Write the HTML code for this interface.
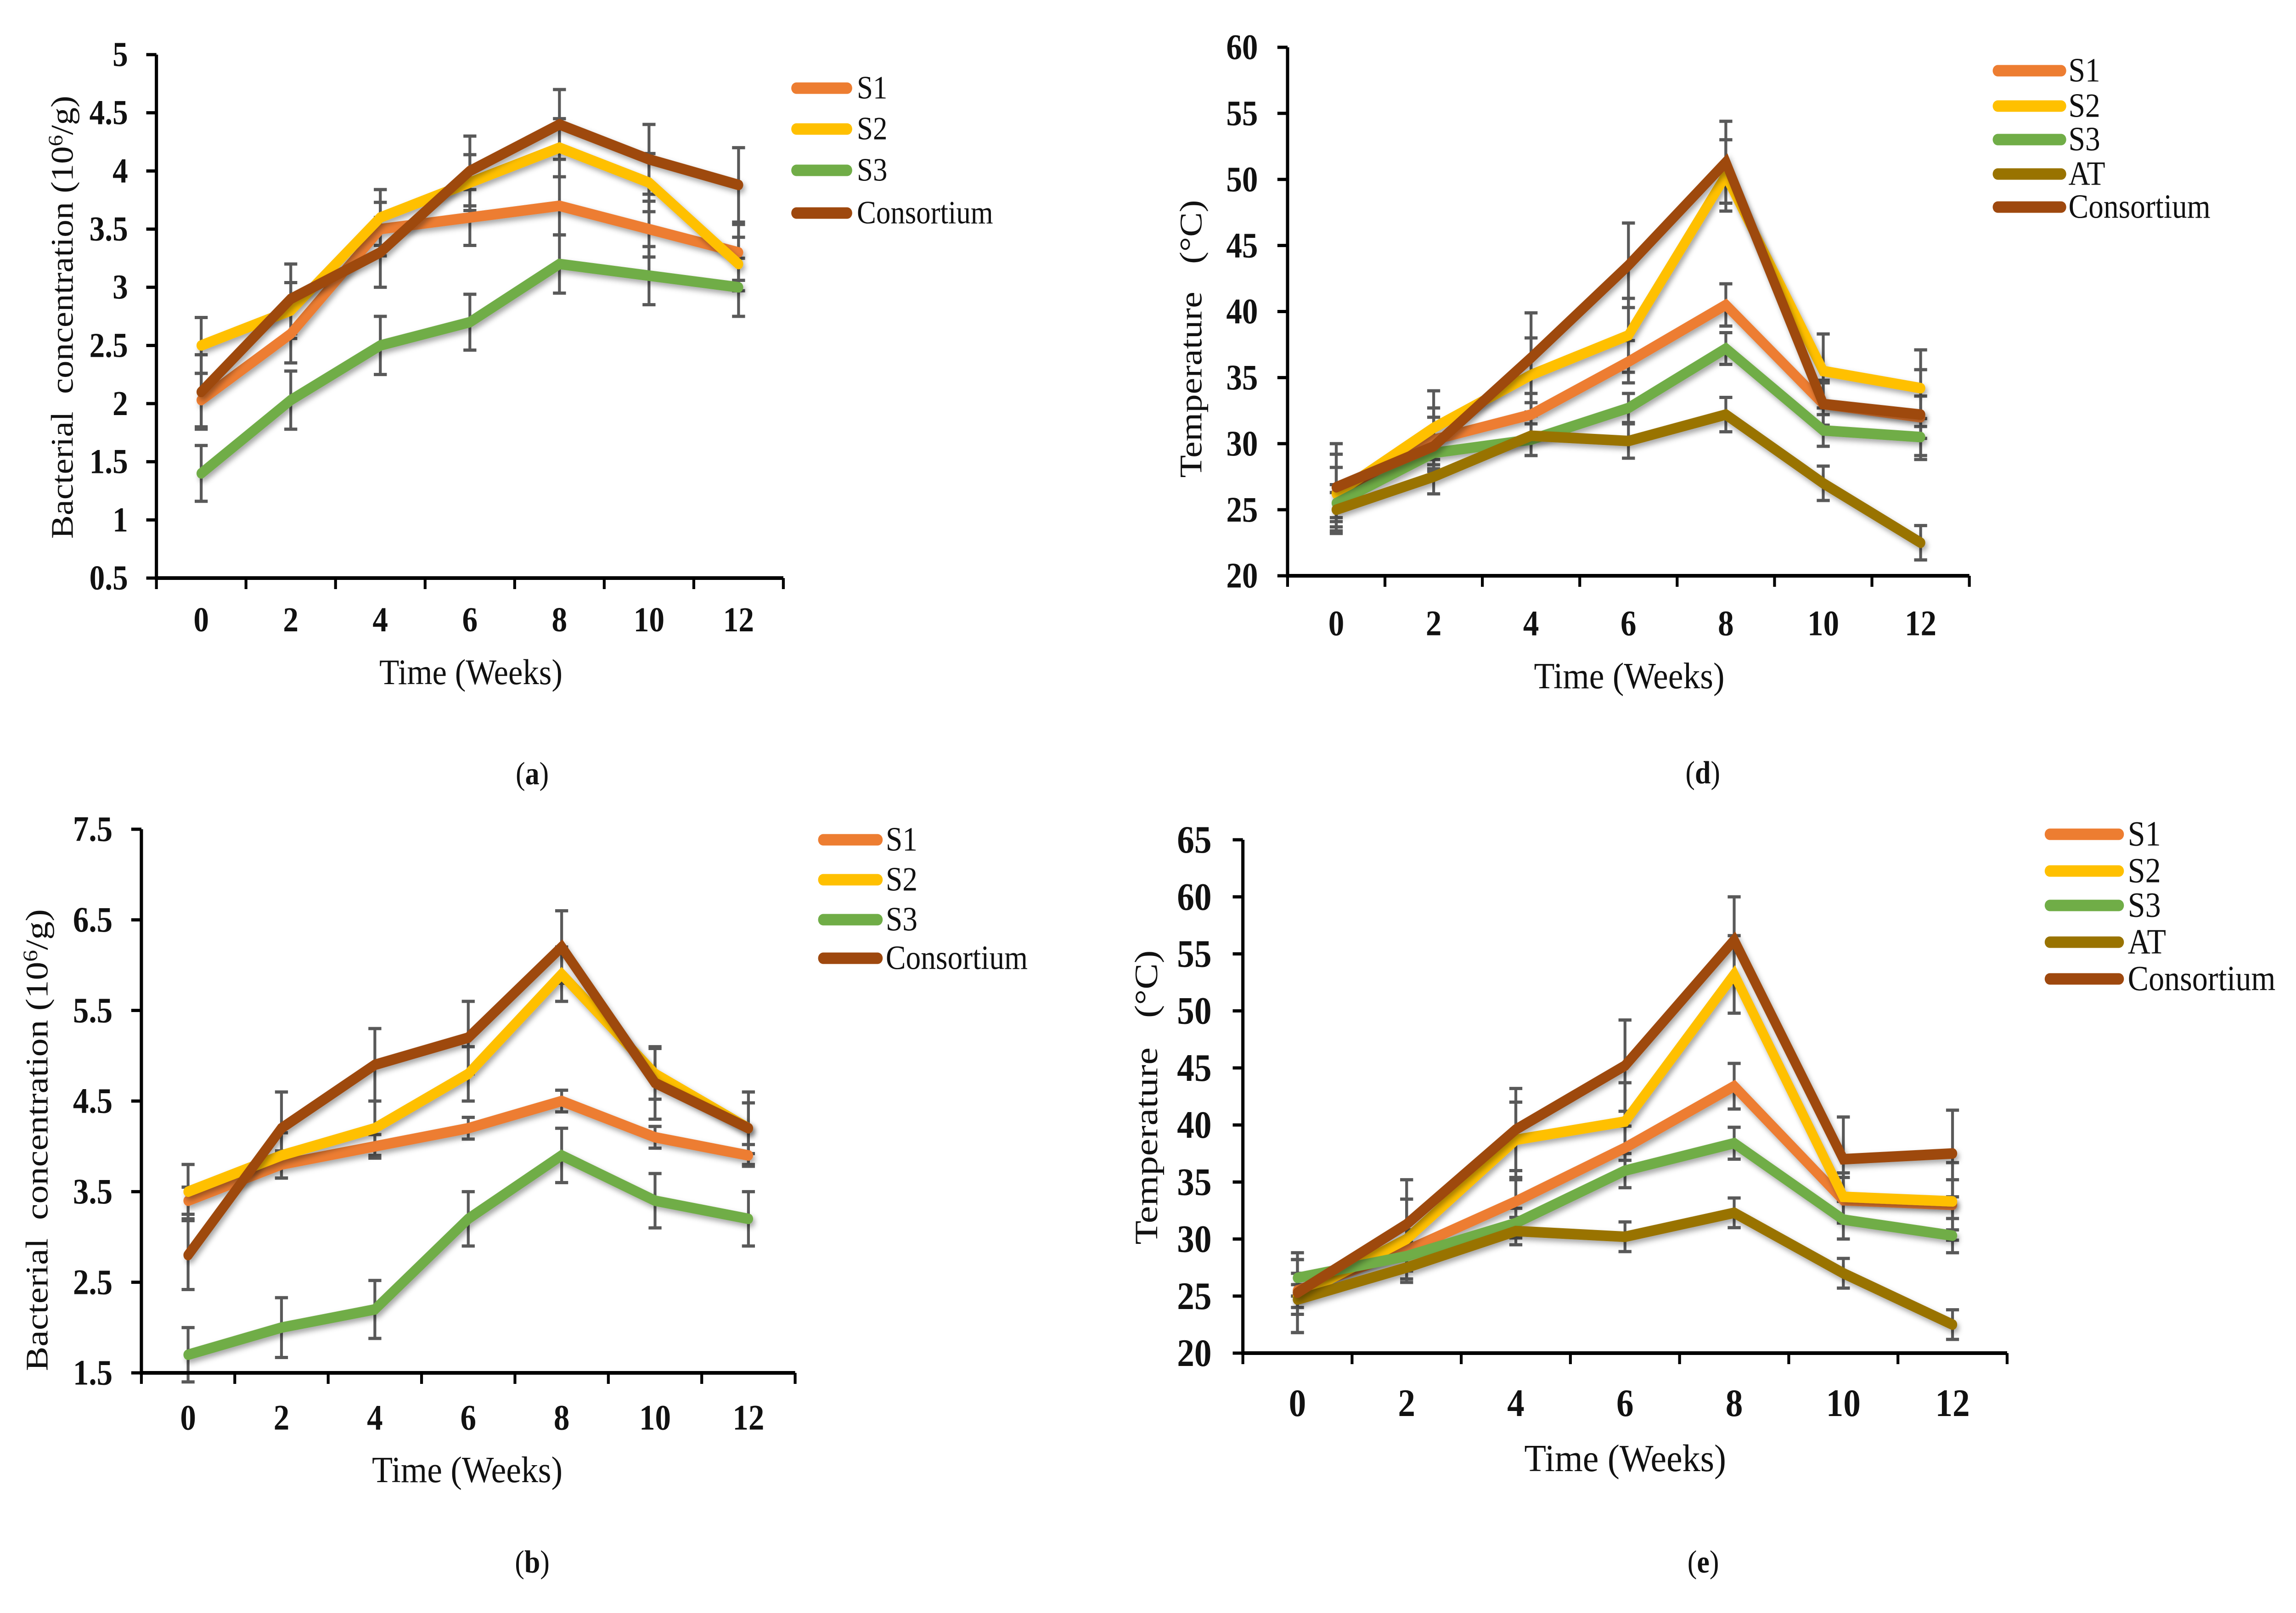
<!DOCTYPE html>
<html lang="en">
<head>
<meta charset="utf-8">
<title>Bacterial concentration and temperature over time</title>
<style>
html,body{margin:0;padding:0;background:#fff;width:100%;height:100%;overflow:hidden;}
svg{display:block;position:absolute;left:0;top:0;width:100%;height:100%;}
text{font-family:"Liberation Serif","Times New Roman",serif;fill:#111;white-space:pre;}
.tick{font-weight:bold;}
</style>
</head>
<body>
<svg id="figure" xmlns="http://www.w3.org/2000/svg" viewBox="0 0 5651 3513" preserveAspectRatio="none">
<defs>
<filter id="lineShadow" x="-10%" y="-10%" width="120%" height="125%" filterUnits="objectBoundingBox">
<feDropShadow dx="5" dy="7" stdDeviation="6" flood-color="#000" flood-opacity="0.35"/>
</filter>
</defs>
<rect width="5651" height="3513" fill="#fff"/>

<g id="panel-a">
<text transform="translate(153,691) rotate(-90)" text-anchor="middle" dy="26" font-size="78" textLength="965" lengthAdjust="spacingAndGlyphs">Bacterial  concentration (10<tspan font-size="50" dy="-26">6</tspan><tspan dy="26">/g)</tspan></text>
<text x="1159" y="1490" text-anchor="middle" font-size="78" textLength="451" lengthAdjust="spacingAndGlyphs">Time (Weeks)</text>
<text x="1310" y="1708" text-anchor="middle" font-size="70">(<tspan font-weight="bold">a</tspan>)</text>
</g>

<g id="panel-d">
<text transform="translate(2931,738) rotate(-90)" text-anchor="middle" dy="26" font-size="78" textLength="605" lengthAdjust="spacingAndGlyphs">Temperature   (°C)</text>
<text x="4010" y="1499" text-anchor="middle" font-size="80" textLength="469" lengthAdjust="spacingAndGlyphs">Time (Weeks)</text>
<text x="4191" y="1706" text-anchor="middle" font-size="70">(<tspan font-weight="bold">d</tspan>)</text>
</g>

<g id="panel-b">
<text transform="translate(91,2483) rotate(-90)" text-anchor="middle" dy="26" font-size="78" textLength="1006" lengthAdjust="spacingAndGlyphs">Bacterial  concentration (10<tspan font-size="50" dy="-26">6</tspan><tspan dy="26">/g)</tspan></text>
<text x="1150" y="3228" text-anchor="middle" font-size="80" textLength="469" lengthAdjust="spacingAndGlyphs">Time (Weeks)</text>
<text x="1310" y="3425" text-anchor="middle" font-size="70">(<tspan font-weight="bold">b</tspan>)</text>
</g>

<g id="panel-e">
<text transform="translate(2822,2390) rotate(-90)" text-anchor="middle" dy="26" font-size="80" textLength="641" lengthAdjust="spacingAndGlyphs">Temperature   (°C)</text>
<text x="4000" y="3204" text-anchor="middle" font-size="84" textLength="497" lengthAdjust="spacingAndGlyphs">Time (Weeks)</text>
<text x="4192" y="3425" text-anchor="middle" font-size="70">(<tspan font-weight="bold">e</tspan>)</text>
</g>

<script>
// ---- shared data ----
var weeks = ["0","2","4","6","8","10","12"];

// ---- panel a values ----
var aTicks = ["0.5","1","1.5","2","2.5","3","3.5","4","4.5","5"];
var aS1 = [2.03,2.6,3.5,3.6,3.7,3.5,3.3];
var aS2 = [2.5,2.8,3.6,3.9,4.2,3.9,3.2];
var aS3 = [1.4,2.03,2.5,2.7,3.2,3.1,3.0];
var aCons = [2.1,2.9,3.3,4.0,4.4,4.1,3.88];
var aS1Err = [0.23,0.25,0.23,0.24,0.25,0.24,0.24];
var aS2Err = [0.24,0.24,0.24,0.24,0.25,0.25,0.23];
var aS3Err = [0.24,0.25,0.25,0.24,0.25,0.25,0.25];
var aConsErr = [0.32,0.3,0.3,0.3,0.3,0.3,0.32];

// ---- panel d values ----
var dTicks = ["20","25","30","35","40","45","50","55","60"];
var dS1 = [26.3,30.3,32.2,36.2,40.5,33,32];
var dS2 = [26.2,31.2,35.2,38.2,50.3,35.5,34.2];
var dS3 = [25.5,29.3,30.3,32.7,37.2,31,30.5];
var dAT = [25,27.5,30.6,30.2,32.2,27,22.5];
var dCons = [26.7,29.8,36.5,43.5,51.3,33,32.2];
var dS1Err = [1.9,2.4,1.6,1.6,1.6,1.6,1.6];
var dS2Err = [3,2.8,2.8,2.8,2.7,2.8,2.9];
var dS3Err = [1.4,1.2,1.2,1.1,1.2,1.2,1.4];
var dATErr = [1.3,1.3,1.5,1.3,1.3,1.3,1.3];
var dConsErr = [3.3,2.2,3.4,3.2,3.1,1.8,3.4];

// ---- panel b values ----
var bTicks = ["1.5","2.5","3.5","4.5","5.5","6.5","7.5"];
var bS1 = [3.4,3.8,4.0,4.2,4.5,4.1,3.9];
var bS2 = [3.5,3.9,4.2,4.8,5.9,4.8,4.2];
var bS3 = [1.7,2.0,2.2,3.2,3.9,3.4,3.2];
var bCons = [2.8,4.2,4.9,5.2,6.2,4.7,4.2];
var bS1Err = [0.15,0.15,0.13,0.12,0.12,0.12,0.12];
var bS2Err = [0.3,0.25,0.3,0.3,0.3,0.28,0.28];
var bS3Err = [0.3,0.33,0.32,0.3,0.3,0.3,0.3];
var bConsErr = [0.38,0.4,0.4,0.4,0.4,0.4,0.4];

// ---- panel e values ----
var eTicks = ["20","25","30","35","40","45","50","55","60","65"];
var eS1 = [25.5,29,33.3,38,43.4,33.4,33];
var eS2 = [25,30,38.7,40.3,53.2,33.7,33.3];
var eS3 = [26.6,28.5,31.4,36,38.4,31.7,30.3];
var eAT = [24.7,27.5,30.7,30.2,32.3,27,22.5];
var eCons = [25.3,31.3,39.6,45.2,56.2,37,37.5];
var eS1Err = [1.5,1.8,1.9,1.9,2,2,2.2];
var eS2Err = [3.2,3.5,3.3,3.4,3.4,2.1,3.4];
var eS3Err = [1.6,1.2,1.3,1.5,1.4,1.7,1.5];
var eATErr = [1.3,1.3,1.2,1.3,1.3,1.3,1.3];
var eConsErr = [3.5,3.9,3.6,4,3.8,3.7,3.8];

// ---- series names and colours ----
var colorByName = {S1:"#ED7D31",S2:"#FFC000",S3:"#70AD47",AT:"#997300",Consortium:"#9E480E"};

var SVGNS = "http://www.w3.org/2000/svg";

function mk(parent, tag, attrs) {
  var el = document.createElementNS(SVGNS, tag);
  for (var k in attrs) el.setAttribute(k, attrs[k]);
  parent.appendChild(el);
  return el;
}

function drawPanel(id, layout, ticks, names, values, errors) {
  var g = document.getElementById("panel-" + id);
  var yMin = parseFloat(ticks[0]);
  var yMax = parseFloat(ticks[ticks.length - 1]);
  var step = (layout.right - layout.left) / weeks.length;
  function xPos(i) { return layout.left + step * (i + 0.5); }
  function yPos(v) { return layout.bottom - (v - yMin) / (yMax - yMin) * (layout.bottom - layout.top); }

  // error bars
  names.forEach(function (name, s) {
    var eg = mk(g, "g", {stroke: "#595959", "stroke-width": 7, fill: "none"});
    
    
    values[s].forEach(function (v, i) {
      var x = xPos(i), hi = yPos(v + errors[s][i]), lo = yPos(v - errors[s][i]);
      mk(eg, "path", {d: "M" + x + " " + hi + "V" + lo + "M" + (x - 16) + " " + hi + "H" + (x + 16) + "M" + (x - 16) + " " + lo + "H" + (x + 16)});
    });
  });

  // axes
  var ax = mk(g, "g", {stroke: "#000", "stroke-width": 8, fill: "none"});
  
  
  mk(ax, "path", {d: "M" + layout.left + " " + layout.top + "V" + layout.bottom + "H" + layout.right});
  ticks.forEach(function (t) {
    var y = yPos(parseFloat(t));
    mk(ax, "path", {d: "M" + (layout.left - 25) + " " + y + "H" + layout.left, "stroke-width": 7});
    var lab = mk(g, "text", {x: layout.tickRight, y: y + layout.tickSize * 0.33, "text-anchor": "end", "font-size": layout.tickSize, "class": "tick"});
    
    
    lab.textContent = t;
  });
  for (var j = 0; j <= weeks.length; j++) {
    var tx = layout.left + step * j;
    mk(ax, "path", {d: "M" + tx + " " + layout.bottom + "V" + (layout.bottom + 24), "stroke-width": 7});
  }
  weeks.forEach(function (w, i) {
    var lab = mk(g, "text", {x: xPos(i), y: layout.xLabelY + layout.tickSize * 0.33, "text-anchor": "middle", "font-size": layout.tickSize, "class": "tick"});
    
    
    lab.textContent = w;
  });

  // series lines
  names.forEach(function (name, s) {
    var pts = values[s].map(function (v, i) { return xPos(i) + "," + yPos(v); }).join(" ");
    var line = mk(g, "polyline", {points: pts, fill: "none", stroke: colorByName[name], "stroke-width": 23, "stroke-linejoin": "miter", "stroke-linecap": "round", filter: "url(#lineShadow)"});
    
    
  });

  // legend
  names.forEach(function (name, s) {
    var y = layout.legendY[s];
    var sw = mk(g, "line", {x1: layout.legendX1 + 12, x2: layout.legendX2 - 12, y1: y, y2: y, stroke: colorByName[name], "stroke-width": 25, "stroke-linecap": "round"});
    
    
    var tx = mk(g, "text", {x: layout.legendText, y: y + layout.legendSize * 0.32, "font-size": layout.legendSize});
    
    
    tx.textContent = name;
  });
}

drawPanel("a",
  {left:385,right:1928,top:119,bottom:1259,tickRight:315,tickSize:76,xLabelY:1350,legendX1:1948,legendX2:2097,legendText:2109,legendSize:71,legendY:[192,281,371,464]},
  aTicks, ["S1","S2","S3","Consortium"], [aS1,aS2,aS3,aCons], [aS1Err,aS2Err,aS3Err,aConsErr]);

drawPanel("d",
  {left:3169,right:4847,top:103,bottom:1254,tickRight:3096,tickSize:78,xLabelY:1358,legendX1:4905,legendX2:5085,legendText:5091,legendSize:74,legendY:[154,231,304,379,451]},
  dTicks, ["S1","S2","S3","AT","Consortium"], [dS1,dS2,dS3,dAT,dCons], [dS1Err,dS2Err,dS3Err,dATErr,dConsErr]);

drawPanel("b",
  {left:348,right:1957,top:1806,bottom:2990,tickRight:277,tickSize:78,xLabelY:3088,legendX1:2014,legendX2:2172,legendText:2180,legendSize:74,legendY:[1829,1916,2003,2087]},
  bTicks, ["S1","S2","S3","Consortium"], [bS1,bS2,bS3,bCons], [bS1Err,bS2Err,bS3Err,bConsErr]);

drawPanel("e",
  {left:3059,right:4940,top:1829,bottom:2947,tickRight:2982,tickSize:85,xLabelY:3056,legendX1:5033,legendX2:5227,legendText:5237,legendSize:77,legendY:[1817,1897,1972,2052,2132]},
  eTicks, ["S1","S2","S3","AT","Consortium"], [eS1,eS2,eS3,eAT,eCons], [eS1Err,eS2Err,eS3Err,eATErr,eConsErr]);
</script>
</svg>
</body>
</html>
